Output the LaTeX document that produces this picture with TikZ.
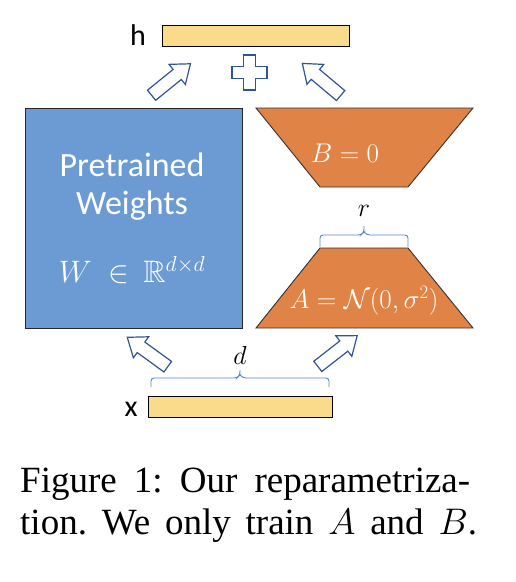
\RequirePackage{fix-cm}
\documentclass[tikz,border=0pt]{standalone}
\usepackage{amssymb}
\usepackage{fontspec}
\setmainfont{Liberation Serif}
\newfontfamily\calib{Carlito}
\definecolor{barY}{HTML}{F9DB8B}
\definecolor{wBlue}{HTML}{6B9BD2}
\definecolor{abOrange}{HTML}{DF8446}
\definecolor{arrowBlue}{HTML}{2F5597}
\definecolor{braceBlue}{HTML}{5B85C8}
\tikzset{
  vecbar/.style={draw=black, line width=1pt, fill=barY, inner sep=0pt, outer sep=0pt},
  wbox/.style={draw=black!85, line width=1pt, fill=wBlue, inner sep=0pt, outer sep=0pt},
  trap/.style={draw=black!80, line width=0.9pt, fill=abOrange},
  barrow/.style={draw=arrowBlue, line width=1.2pt, fill=white, line join=miter},
  bracestyle/.style={draw=braceBlue, line width=0.9pt, rounded corners=3pt},
  sanslab/.style={font=\calib\fontsize{30}{36}\selectfont, inner sep=0pt},
  boxtxt/.style={font=\calib\fontsize{34}{40}\selectfont, text=white, inner sep=0pt},
  mathwhite/.style={text=white, inner sep=0pt},
  mathlab/.style={inner sep=0pt},
  captxt/.style={font=\fontsize{37}{42}\selectfont, inner sep=0pt, anchor=base west}
}
\newcommand{\blockarrow}[3]{%
  \draw[barrow, shift={(#1,#2)}, rotate=#3]
    (-25,-6.5) -- (8,-6.5) -- (8,-13) -- (25,0) -- (8,13) -- (8,6.5) -- (-25,6.5) -- cycle;}
% squared brace: left x, right x, bottom y, bar y, tip y
\newcommand{\sqbrace}[5]{%
  \draw[bracestyle] (#1,#3) |- ({(#1+#2)/2-3},#4) -- ({(#1+#2)/2},{#4-3}) -- ({(#1+#2)/2},#5);
  \draw[bracestyle] (#2,#3) |- ({(#1+#2)/2+3},#4) -- ({(#1+#2)/2},{#4-3});}
\begin{document}
\frenchspacing
\begin{tikzpicture}[x=1pt,y=-1pt]
\useasboundingbox (0,0) rectangle (516,582);
% output h
\node[vecbar, minimum width=187pt, minimum height=21pt] (hbar) at (255.5,35.5) {};
\node[sanslab, anchor=center] (hlab) at (138,35) {h};
% pretrained weights
\node[wbox, minimum width=217pt, minimum height=220pt] (W) at (133.5,218) {};
\node[boxtxt] (pt1) at (132,165) {Pretrained};
\node[boxtxt] (pt2) at (132,206) {Weights};
\node[mathwhite, font=\fontsize{31}{36}\selectfont] (wmath) at (132,270) {$W\;\in\,\mathbb{R}^{d\times d}$};
% B trapezoid
\draw[trap] (256,108) -- (473,108) -- (408,187) -- (320,187) -- cycle;
\node[mathwhite, font=\fontsize{27}{32}\selectfont] (Blab) at (345,153) {$B=0$};
% r brace
\sqbrace{320}{408}{247}{235}{226}
\node[mathlab, font=\fontsize{26}{30}\selectfont] (rlab) at (364,211) {$r$};
% A trapezoid
\draw[trap] (320,248) -- (408,248) -- (473,328) -- (256,328) -- cycle;
\node[mathwhite, font=\fontsize{27}{32}\selectfont] (Alab) at (364,301) {$A=\mathcal{N}(0,\sigma^2)$};
% input x
\node[vecbar, minimum width=184pt, minimum height=21pt] (xbar) at (240,406.5) {};
\node[sanslab, anchor=center] (xlab) at (131,409) {x};
% d brace
\sqbrace{151}{329}{387}{378}{370}
\node[mathlab, font=\fontsize{26}{30}\selectfont] (dlab) at (240,355) {$d$};
% block arrows
\blockarrow{147.5}{352}{144}
\blockarrow{337.5}{351}{38}
\blockarrow{171}{79.5}{39}
\blockarrow{321.5}{79.5}{140}
% plus sign
\draw[barrow, shift={(249.5,72.5)}]
  (-6,-17.5) -- (6,-17.5) -- (6,-6) -- (17.5,-6) -- (17.5,6) -- (6,6) -- (6,17.5)
  -- (-6,17.5) -- (-6,6) -- (-17.5,6) -- (-17.5,-6) -- (-6,-6) -- cycle;
% caption
\node[captxt] (cap1) at (20,492) {\makebox[450pt][s]{Figure 1: Our reparametriza-}};
\node[captxt] (cap2) at (20,534) {\makebox[457pt][s]{tion. We only train $A$ and $B$.}};
\end{tikzpicture}
\end{document}
